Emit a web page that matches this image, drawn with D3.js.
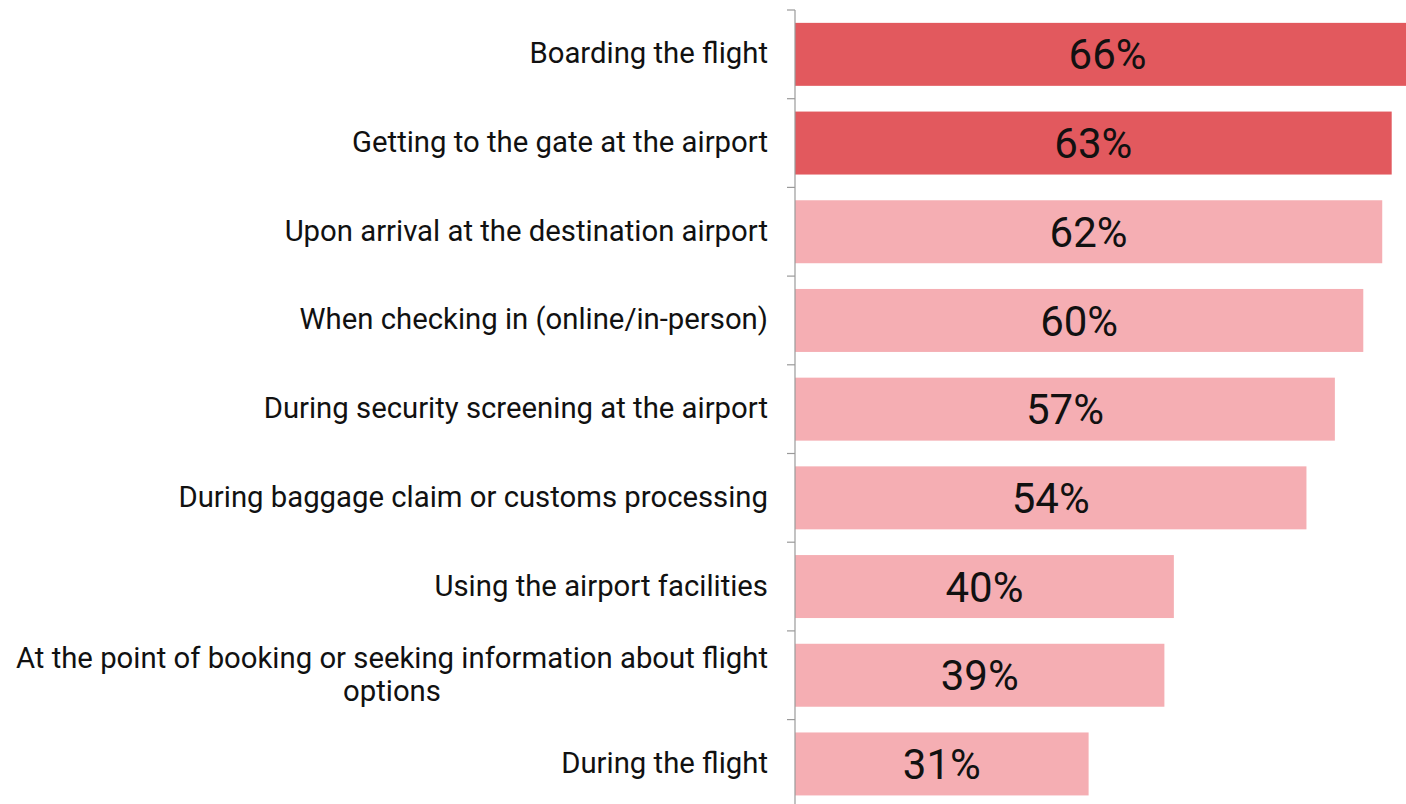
<!DOCTYPE html>
<html>
<head>
<meta charset="utf-8">
<script src="https://cdn.jsdelivr.net/npm/d3@7"></script>
<style>
  html, body { margin: 0; padding: 0; background: #fff; overflow: hidden; }
  svg { display: block; font-family: Roboto, "Noto Sans", sans-serif; }
</style>
</head>
<body>
<svg id="chart" width="1406" height="804"></svg>
<script>
// Share of travellers by stage of the journey
const categories = [
  "Boarding the flight",
  "Getting to the gate at the airport",
  "Upon arrival at the destination airport",
  "When checking in (online/in-person)",
  "During security screening at the airport",
  "During baggage claim or customs processing",
  "Using the airport facilities",
  "At the point of booking or seeking information about flight options",
  "During the flight"
];
const values = [66, 63, 62, 60, 57, 54, 40, 39, 31];
const highlighted = [true, true, false, false, false, false, false, false, false];
const labelLines = [
  ["Boarding the flight"],
  ["Getting to the gate at the airport"],
  ["Upon arrival at the destination airport"],
  ["When checking in (online/in-person)"],
  ["During security screening at the airport"],
  ["During baggage claim or customs processing"],
  ["Using the airport facilities"],
  ["At the point of booking or seeking information about flight", "options"],
  ["During the flight"]
];

const svg = d3.select("#chart");
const axisX = 795;

const x = d3.scaleLinear().domain([0, 70]).range([axisX, axisX + 663]);
const y = d3.scaleBand().domain(categories).range([10, 808.3]).paddingInner(0).paddingOuter(0);
const step = y.step();
const barH = step * 0.71;
const barOff = (step - barH) / 2;

// bars
svg.append("g").selectAll("rect")
  .data(categories)
  .join("rect")
  .attr("x", x(0))
  .attr("y", d => y(d) + barOff)
  .attr("width", (d, i) => x(values[i]) - x(0))
  .attr("height", barH)
  .attr("fill", (d, i) => highlighted[i] ? "#E2595E" : "#F5AEB3");

// value labels centred in each bar
svg.append("g").selectAll("text")
  .data(categories)
  .join("text")
  .attr("x", (d, i) => (x(0) + x(values[i])) / 2)
  .attr("y", d => y(d) + step / 2)
  .attr("dy", "0.36em")
  .attr("text-anchor", "middle")
  .attr("font-size", 42)
  .attr("fill", "#111")
  .text((d, i) => values[i] + "%");

// category axis with boundary ticks
const axisG = svg.append("g");
axisG.append("line")
  .attr("x1", axisX).attr("x2", axisX)
  .attr("y1", 10).attr("y2", 808.3)
  .attr("stroke", "#9a9a9a").attr("stroke-width", 1.2);
const bounds = categories.map(c => y(c)).concat([y(categories[categories.length - 1]) + step]);
axisG.selectAll("line.tick")
  .data(bounds)
  .join("line")
  .attr("class", "tick")
  .attr("x1", axisX - 8).attr("x2", axisX)
  .attr("y1", d => d).attr("y2", d => d)
  .attr("stroke", "#9a9a9a").attr("stroke-width", 1.2);

// category labels, multi-line labels centred within their block
const labelRight = 768;
const lineH = 33;
const fontSize = 29.3;
labelLines.forEach((lines, i) => {
  const cy = y(categories[i]) + step / 2 - 1.5;
  const g = svg.append("g");
  const t = g.append("text")
    .attr("font-size", fontSize)
    .attr("fill", "#111");
  lines.forEach((ln, j) => {
    t.append("tspan")
      .attr("y", cy + (j - (lines.length - 1) / 2) * lineH)
      .attr("dy", "0.36em")
      .text(ln);
  });
  if (lines.length === 1) {
    t.attr("text-anchor", "end").selectAll("tspan").attr("x", labelRight);
  } else {
    const widths = [];
    t.selectAll("tspan").each(function () { widths.push(this.getComputedTextLength()); });
    const maxW = d3.max(widths);
    const cx = labelRight - maxW / 2;
    t.attr("text-anchor", "middle").selectAll("tspan").attr("x", cx);
  }
});
</script>
</body>
</html>
